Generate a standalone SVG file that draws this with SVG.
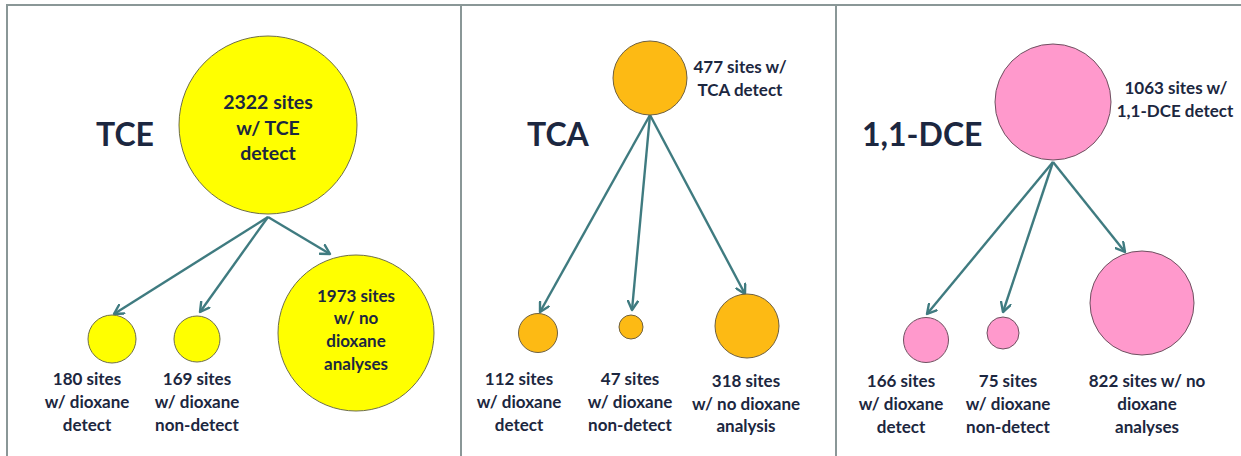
<svg xmlns="http://www.w3.org/2000/svg" width="1241" height="456" viewBox="0 0 1241 456">
<defs>
<marker id="arr" viewBox="0 0 12 12" refX="10" refY="6" markerWidth="12" markerHeight="12" markerUnits="userSpaceOnUse" orient="auto">
<path d="M1,1 L10,6 L1,11" fill="none" stroke="#3f7b80" stroke-width="2.4" stroke-linecap="round" stroke-linejoin="round"/>
</marker>
</defs>
<style>
.frame{fill:none;stroke:#8a9797;stroke-width:2}
.yel{fill:#ffff00;stroke:#6e6e4a;stroke-width:1}
.org{fill:#fdba14;stroke:#6e6040;stroke-width:1}
.pnk{fill:#ff99cc;stroke:#6e5060;stroke-width:1}
.conn{fill:none;stroke:#3f7b80;stroke-width:2.4;marker-end:url(#arr)}
text{font-family:Lato,"Open Sans","Liberation Sans",sans-serif;fill:#1c2740;font-weight:700}
.title{font-size:32px;text-anchor:start}
.lbl{font-size:17px;text-anchor:middle}
.in{font-size:19.5px;text-anchor:middle}
</style>
<rect width="1241" height="456" fill="#ffffff"/>
<g id="frames">
<path class="frame" d="M7,460 L7,5 L1241,5"/>
<line class="frame" x1="461" y1="5" x2="461" y2="460"/>
<line class="frame" x1="836" y1="5" x2="836" y2="460"/>
</g>
<g id="connectors">
<line class="conn" x1="268" y1="217" x2="114" y2="314"/>
<line class="conn" x1="268" y1="217" x2="200" y2="312"/>
<line class="conn" x1="268" y1="217" x2="330" y2="254"/>
<line class="conn" x1="650" y1="115" x2="540" y2="312"/>
<line class="conn" x1="650" y1="115" x2="632" y2="310"/>
<line class="conn" x1="650" y1="115" x2="745" y2="294"/>
<line class="conn" x1="1053" y1="162" x2="927" y2="314"/>
<line class="conn" x1="1053" y1="162" x2="1003" y2="312"/>
<line class="conn" x1="1053" y1="162" x2="1125" y2="252"/>
</g>
<g id="tce-title"><text class="title" x="96" y="146">TCE</text></g>
<g id="tce-main">
<circle class="yel" cx="268" cy="125" r="89"/>
<text class="in" x="268" y="109">2322 sites</text>
<text class="in" x="268" y="135">w/ TCE</text>
<text class="in" x="268" y="160">detect</text>
</g>
<g id="tce-detect">
<circle class="yel" cx="112" cy="339" r="24"/>
<text class="lbl" x="87" y="385">180 sites</text>
<text class="lbl" x="87" y="408">w/ dioxane</text>
<text class="lbl" x="87" y="431">detect</text>
</g>
<g id="tce-nondetect">
<circle class="yel" cx="197" cy="339" r="23"/>
<text class="lbl" x="197" y="385">169 sites</text>
<text class="lbl" x="197" y="408">w/ dioxane</text>
<text class="lbl" x="197" y="431">non-detect</text>
</g>
<g id="tce-noanalysis">
<circle class="yel" cx="356" cy="333" r="78"/>
<text class="lbl" x="356" y="302">1973 sites</text>
<text class="lbl" x="356" y="324">w/ no</text>
<text class="lbl" x="356" y="347">dioxane</text>
<text class="lbl" x="356" y="370">analyses</text>
</g>
<g id="tca-title"><text class="title" x="527" y="146">TCA</text></g>
<g id="tca-main">
<circle class="org" cx="650" cy="78" r="37"/>
<text class="lbl" x="740" y="73">477 sites w/</text>
<text class="lbl" x="740" y="96">TCA detect</text>
</g>
<g id="tca-detect">
<circle class="org" cx="538" cy="333" r="19.5"/>
<text class="lbl" x="519" y="385">112 sites</text>
<text class="lbl" x="519" y="408">w/ dioxane</text>
<text class="lbl" x="519" y="431">detect</text>
</g>
<g id="tca-nondetect">
<circle class="org" cx="631" cy="327" r="12"/>
<text class="lbl" x="630" y="385">47 sites</text>
<text class="lbl" x="630" y="408">w/ dioxane</text>
<text class="lbl" x="630" y="431">non-detect</text>
</g>
<g id="tca-noanalysis">
<circle class="org" cx="747" cy="326" r="32"/>
<text class="lbl" x="746" y="387">318 sites</text>
<text class="lbl" x="746" y="410">w/ no dioxane</text>
<text class="lbl" x="746" y="432">analysis</text>
</g>
<g id="dce-title"><text class="title" x="862" y="146">1,1-DCE</text></g>
<g id="dce-main">
<circle class="pnk" cx="1053" cy="102" r="58"/>
<text class="lbl" x="1176" y="94">1063 sites w/</text>
<text class="lbl" x="1175" y="117">1,1-DCE detect</text>
</g>
<g id="dce-detect">
<circle class="pnk" cx="926" cy="340" r="22.5"/>
<text class="lbl" x="901" y="387">166 sites</text>
<text class="lbl" x="901" y="410">w/ dioxane</text>
<text class="lbl" x="901" y="433">detect</text>
</g>
<g id="dce-nondetect">
<circle class="pnk" cx="1003" cy="333" r="16"/>
<text class="lbl" x="1008" y="387">75 sites</text>
<text class="lbl" x="1008" y="410">w/ dioxane</text>
<text class="lbl" x="1008" y="433">non-detect</text>
</g>
<g id="dce-noanalysis">
<circle class="pnk" cx="1142" cy="303" r="52"/>
<text class="lbl" x="1147" y="387">822 sites w/ no</text>
<text class="lbl" x="1147" y="410">dioxane</text>
<text class="lbl" x="1147" y="433">analyses</text>
</g>
</svg>
